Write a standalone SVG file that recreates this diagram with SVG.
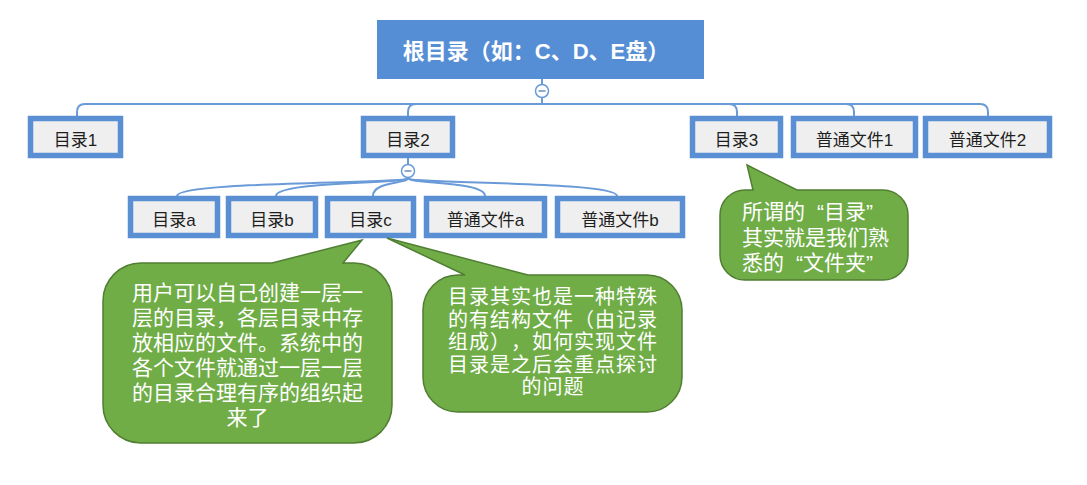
<svg xmlns="http://www.w3.org/2000/svg" width="1087" height="485" viewBox="0 0 1087 485">
<style>
.bg{fill:#ffffff}
.root{fill:#558ED5}
.roottxt{font-family:"Liberation Sans","Noto Sans CJK SC",sans-serif;font-size:22px;font-weight:bold;fill:#ffffff;text-anchor:middle;text-spacing-trim:space-all}
.box{fill:#EFEFEF;stroke:#5B8FD4;stroke-width:5.5}
.lbl{font-family:"Liberation Sans","Noto Sans CJK SC",sans-serif;font-size:17px;fill:#1e1e1e;text-anchor:middle}
.conn{fill:none;stroke:#6A9BD8;stroke-width:2}
.tog{fill:#ffffff;stroke:#6A9BD8;stroke-width:1.5}
.togm{stroke:#8FA9C8;stroke-width:2}
.call{fill:#70AD47;stroke:#507E32;stroke-width:1.5}
.ctxt{font-family:"Liberation Sans","Noto Sans CJK SC",sans-serif;font-size:21px;fill:#ffffff;text-spacing-trim:space-all}
.small{font-size:20px;letter-spacing:1px}
.mid{text-anchor:middle}
</style>
<rect class="bg" x="0" y="0" width="1087" height="485"/>
<g id="connectors">
  <path class="conn" d="M542,79 V84.5"/>
  <path class="conn" d="M542,97.5 V104 H85 Q77,104 77,112 V116"/>
  <path class="conn" d="M542,104 H416 Q408,104 408,112 V116"/>
  <path class="conn" d="M542,104 H729 Q737,104 737,112 V116"/>
  <path class="conn" d="M542,104 H846 Q854,104 854,112 V116"/>
  <path class="conn" d="M542,104 H980 Q988,104 988,112 V116"/>
  <path class="conn" d="M408,158 V164"/>
  <path class="conn" d="M408,178 C408,184 177,181 177,196"/>
  <path class="conn" d="M408,178 C408,184 276,181 276,196"/>
  <path class="conn" d="M408,178 C408,184 373,181 373,196"/>
  <path class="conn" d="M408,178 C408,184 485,181 485,196"/>
  <path class="conn" d="M408,178 C408,184 617,181 617,196"/>
</g>
<g id="root">
  <rect class="root" x="377" y="20" width="327" height="59"/>
  <text class="roottxt" x="536" y="59">根目录（如：C、D、E盘）</text>
  <circle class="tog" cx="542" cy="91" r="6.5"/>
  <line class="togm" x1="538.5" y1="91" x2="545.5" y2="91"/>
</g>
<g id="dir1">
  <rect class="box" x="30.5" y="118.5" width="90" height="37"/>
  <text class="lbl" x="75.5" y="146">目录1</text>
</g>
<g id="dir2">
  <rect class="box" x="363.5" y="118.5" width="89" height="37"/>
  <text class="lbl" x="408" y="146">目录2</text>
  <circle class="tog" cx="408" cy="171" r="6.5"/>
  <line class="togm" x1="404.5" y1="171" x2="411.5" y2="171"/>
</g>
<g id="dir3">
  <rect class="box" x="692.5" y="118.5" width="88" height="37"/>
  <text class="lbl" x="736.5" y="146">目录3</text>
</g>
<g id="file1">
  <rect class="box" x="793.5" y="118.5" width="122" height="37"/>
  <text class="lbl" x="854.5" y="146">普通文件1</text>
</g>
<g id="file2">
  <rect class="box" x="925.5" y="118.5" width="124" height="37"/>
  <text class="lbl" x="987.5" y="146">普通文件2</text>
</g>
<g id="dira">
  <rect class="box" x="130.5" y="198.5" width="87" height="37"/>
  <text class="lbl" x="174" y="226">目录a</text>
</g>
<g id="dirb">
  <rect class="box" x="228.5" y="198.5" width="87" height="37"/>
  <text class="lbl" x="272" y="226">目录b</text>
</g>
<g id="dirc">
  <rect class="box" x="327.5" y="198.5" width="86" height="37"/>
  <text class="lbl" x="370.5" y="226">目录c</text>
</g>
<g id="filea">
  <rect class="box" x="426.5" y="198.5" width="118" height="37"/>
  <text class="lbl" x="485.5" y="226">普通文件a</text>
</g>
<g id="fileb">
  <rect class="box" x="557.5" y="198.5" width="125" height="37"/>
  <text class="lbl" x="620" y="226">普通文件b</text>
</g>
<g id="callout-left">
  <path class="call" d="M141,263 H272 L362,240 L343,263 H354 A38,38 0 0 1 392,301 V405 A38,38 0 0 1 354,443 H141 A38,38 0 0 1 103,405 V301 A38,38 0 0 1 141,263 Z"/>
  <text class="ctxt mid" x="247.5" y="300">用户可以自己创建一层一</text>
  <text class="ctxt mid" x="247.5" y="325">层的目录，各层目录中存</text>
  <text class="ctxt mid" x="247.5" y="350">放相应的文件。系统中的</text>
  <text class="ctxt mid" x="247.5" y="375">各个文件就通过一层一层</text>
  <text class="ctxt mid" x="247.5" y="400">的目录合理有序的组织起</text>
  <text class="ctxt mid" x="247.5" y="425">来了</text>
</g>
<g id="callout-middle">
  <path class="call" d="M458,275 H465 L387,238 L528,275 H647 A35,35 0 0 1 682,310 V377 A35,35 0 0 1 647,412 H458 A35,35 0 0 1 423,377 V310 A35,35 0 0 1 458,275 Z"/>
  <text class="ctxt small mid" x="553" y="304">目录其实也是一种特殊</text>
  <text class="ctxt small mid" x="553" y="326.5">的有结构文件（由记录</text>
  <text class="ctxt small mid" x="553" y="349">组成），如何实现文件</text>
  <text class="ctxt small mid" x="553" y="371.5">目录是之后会重点探讨</text>
  <text class="ctxt small mid" x="553" y="394">的问题</text>
</g>
<g id="callout-right">
  <path class="call" d="M745,190 H753 L747,165 L797,190 H883 A25,25 0 0 1 908,215 V255 A25,25 0 0 1 883,280 H745 A25,25 0 0 1 720,255 V215 A25,25 0 0 1 745,190 Z"/>
  <text class="ctxt" x="742" y="219">所谓的<tspan dx="12">“</tspan>目录”</text>
  <text class="ctxt" x="742" y="245">其实就是我们熟</text>
  <text class="ctxt" x="742" y="270">悉的<tspan dx="12">“</tspan>文件夹”</text>
</g>
</svg>
